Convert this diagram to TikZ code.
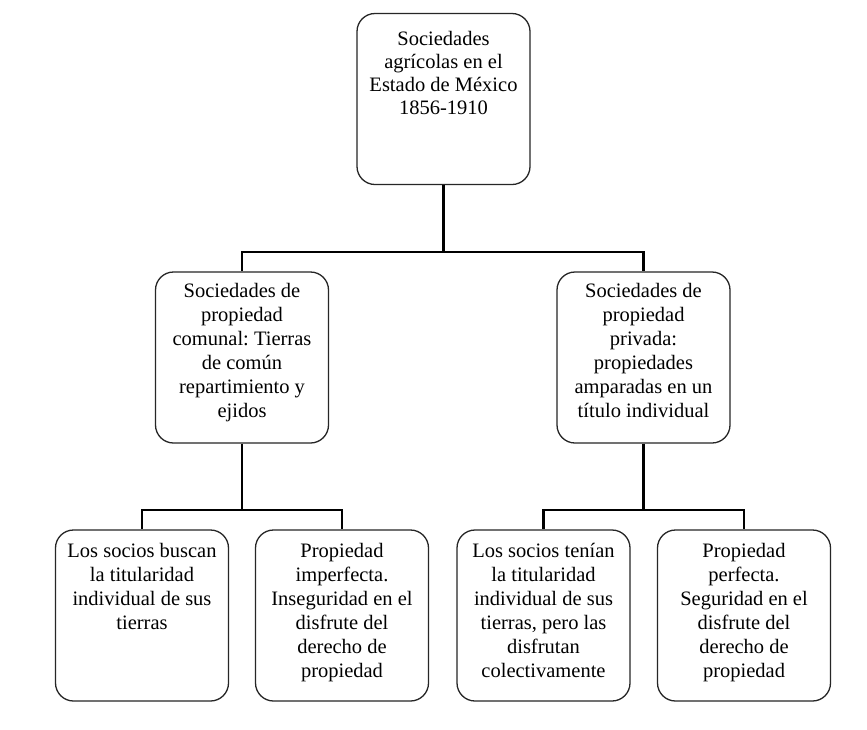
\documentclass[tikz,border=0pt]{standalone}
\usepackage{fontspec}
\setmainfont{Liberation Serif}
\frenchspacing
\begin{document}
\begin{tikzpicture}[x=1pt,y=-1pt,
 box/.style={draw=black!85, line width=1.3pt, rounded corners=18pt, minimum width=173pt, minimum height=171pt, inner sep=0pt},
 txt/.style={anchor=north, align=center, inner sep=0pt, font=\fontsize{20.5}{24}\selectfont},
 conn/.style={line width=2.9pt, black}]
\useasboundingbox[fill=white] (0,0) rectangle (867,729);
% boxes
\node[box] (top) at (443.5,99) {};
\node[box] (l2a) at (242,357.5) {};
\node[box] (l2b) at (643.5,357.5) {};
\node[box] (l3a) at (142,615.5) {};
\node[box] (l3b) at (342,615.5) {};
\node[box] (l3c) at (543.5,615.5) {};
\node[box] (l3d) at (744,615.5) {};
% texts
\node[txt, font=\fontsize{20.5}{23}\selectfont] (topt) at (443.5,31) {Sociedades\\agrícolas en el\\Estado de México\\1856-1910};
\node[txt] (l2at) at (242,282.7) {Sociedades de\\propiedad\\comunal: Tierras\\de común\\repartimiento y\\ejidos};
\node[txt] (l2bt) at (643.5,282.7) {Sociedades de\\propiedad\\privada:\\propiedades\\amparadas en un\\título individual};
\node[txt] (l3at) at (142,542.7) {Los socios buscan\\la titularidad\\individual de sus\\tierras};
\node[txt] (l3bt) at (342,542.7) {Propiedad\\imperfecta.\\Inseguridad en el\\disfrute del\\derecho de\\propiedad};
\node[txt] (l3ct) at (543.5,542.7) {Los socios tenían\\la titularidad\\individual de sus\\tierras, pero las\\disfrutan\\colectivamente};
\node[txt] (l3dt) at (744,542.7) {Propiedad\\perfecta.\\Seguridad en el\\disfrute del\\derecho de\\propiedad};
% connectors
\coordinate (j0) at (443.5,252);
\coordinate (j1) at (242,510);
\coordinate (j2) at (643.5,510);
\draw[conn] (top.south) -- (j0);
\draw[conn] (j0) -| (l2a.north);
\draw[conn] (j0) -| (l2b.north);
\draw[conn] (l2a.south) -- (j1);
\draw[conn] (j1) -| (l3a.north);
\draw[conn] (j1) -| (l3b.north);
\draw[conn] (l2b.south) -- (j2);
\draw[conn] (j2) -| (l3c.north);
\draw[conn] (j2) -| (l3d.north);
\end{tikzpicture}
\end{document}
